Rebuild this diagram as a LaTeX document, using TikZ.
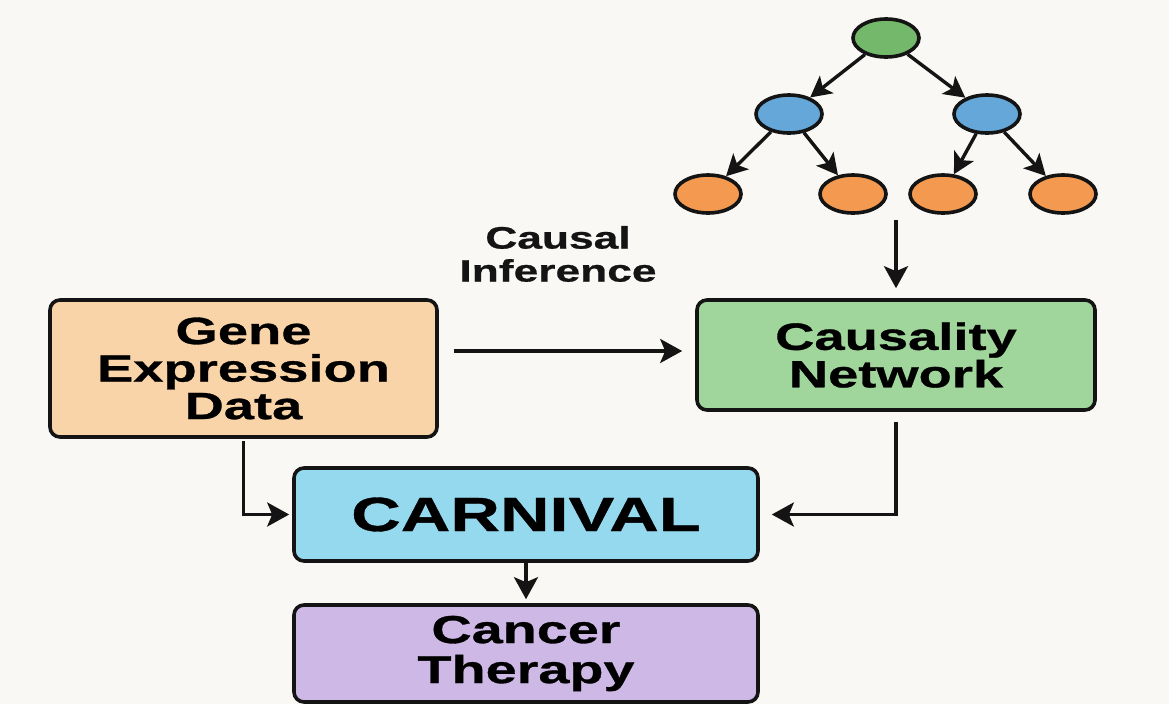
\documentclass[tikz,border=0pt]{standalone}
\usepackage{fontspec}
\setmainfont{Liberation Sans}
\newfontfamily\labfont[FakeStretch=1.43,FakeBold=0.8]{Liberation Sans}
\usetikzlibrary{arrows.meta,shapes.geometric}

\definecolor{bgcol}{HTML}{F9F8F5}
\definecolor{inkcol}{HTML}{141414}
\definecolor{genefill}{HTML}{F9D4A8}
\definecolor{causfill}{HTML}{A0D59B}
\definecolor{carnfill}{HTML}{95D9EF}
\definecolor{cancfill}{HTML}{CDB8E6}
\definecolor{rootfill}{HTML}{74B96B}
\definecolor{midfill}{HTML}{64A7D8}
\definecolor{leaffill}{HTML}{F49A50}

\tikzset{
  box/.style={draw=inkcol, line width=3.6pt, rounded corners=10pt, align=center,
    font=\labfont\bfseries\fontsize{38}{37.5}\selectfont, inner sep=0pt},
  treenode/.style={ellipse, draw=inkcol, line width=3.6pt, minimum width=66pt,
    minimum height=38pt, inner sep=0pt},
  arr/.style={draw=inkcol, line width=3.4pt, -{Stealth[length=22pt,width=24pt,inset=5pt]}},
  tarr/.style={draw=inkcol, line width=3.4pt, -{Stealth[length=21pt,width=22pt,inset=5pt]}},
}

\begin{document}
\begin{tikzpicture}[x=1pt,y=-1pt]
  % page background
  \fill[bgcol] (0,0) rectangle (1169,704);
  \useasboundingbox (0,0) rectangle (1169,704);

  % causality tree
  \node[treenode, fill=rootfill] (root) at (886,38) {};
  \node[treenode, fill=midfill] (ml) at (789,114) {};
  \node[treenode, fill=midfill] (mr) at (987,114) {};
  \node[treenode, fill=leaffill] (l1) at (708,194) {};
  \node[treenode, fill=leaffill] (l2) at (853,194) {};
  \node[treenode, fill=leaffill] (l3) at (943,194) {};
  \node[treenode, fill=leaffill] (l4) at (1063,194) {};
  \draw[tarr] (root) -- (ml);
  \draw[tarr] (root) -- (mr);
  \draw[tarr] (ml) -- (l1);
  \draw[tarr] (ml) -- (l2);
  \draw[tarr] (mr) -- (l3);
  \draw[tarr] (mr) -- (l4);
  \coordinate (treebase) at (896,220);

  % main boxes
  \node[box, fill=genefill, minimum width=387pt, minimum height=137pt]
    (gene) at (243.5,368.5) {\raisebox{-3pt}{\parbox{380pt}{\centering Gene\\Expression\\Data}}};
  \node[box, fill=causfill, minimum width=398pt, minimum height=110pt]
    (caus) at (896,355) {Causality\\Network};
  \node[box, fill=carnfill, minimum width=464pt, minimum height=93pt,
    font=\labfont\bfseries\fontsize{48}{50}\selectfont]
    (carn) at (526,514.5) {CARNIVAL};
  \node[box, fill=cancfill, minimum width=464pt, minimum height=97pt,
    font=\labfont\bfseries\fontsize{39}{40}\selectfont]
    (canc) at (526,653.5) {Cancer\\Therapy};

  \node[align=center, font=\labfont\bfseries\fontsize{31}{33}\selectfont, text=inkcol]
    (inflabel) at (558,254) {Causal\\Inference};

  % connectors
  \draw[arr] (treebase) -- ([yshift=10pt]caus.north);
  \draw[arr] ([xshift=15pt,yshift=17.5pt]gene.east) -- ([xshift=-13pt,yshift=4pt]caus.west);
  \draw[arr] ([yshift=-2pt]gene.south) |- ([xshift=-3pt]carn.west);
  \draw[arr] ([yshift=-10pt]caus.south) |- ([xshift=12pt]carn.east);
  \draw[arr] (carn.south) -- ([yshift=4pt]canc.north);
\end{tikzpicture}
\end{document}
